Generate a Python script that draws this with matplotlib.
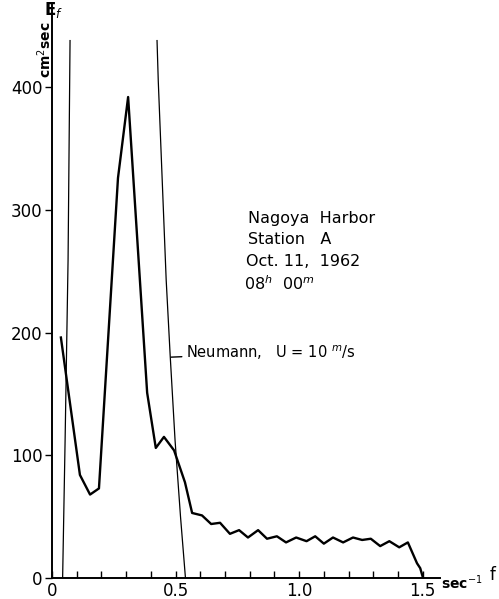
import matplotlib.pyplot as plt
import numpy as np

freq = [0.036, 0.113, 0.154, 0.19, 0.267, 0.308, 0.385, 0.42, 0.453, 0.494,
        0.538, 0.567, 0.607, 0.644, 0.68, 0.72, 0.757, 0.793, 0.834, 0.87,
        0.91, 0.947, 0.988, 1.03, 1.065, 1.10, 1.137, 1.178, 1.218, 1.255,
        1.29, 1.328, 1.365, 1.405, 1.44, 1.477, 1.49, 1.50]
energy = [196, 84, 68, 73, 326, 392, 151, 106, 115, 104,
          78, 53, 51, 44, 45, 36, 39, 33, 39, 32,
          34, 29, 33, 30, 34, 28, 33, 29, 33, 31,
          32, 26, 30, 25, 29, 12, 8, 1]

# Neumann spectrum, U = 10 m/s (both flanks, cut off at the top)
neu_left_f = [0.043, 0.053, 0.065, 0.073]
neu_left_e = [0, 112, 259, 438]
neu_right_f = [0.425, 0.43, 0.462, 0.478, 0.498, 0.52, 0.54]
neu_right_e = [438, 405, 243, 182, 112, 50, 0]

W, H = 499, 599
fig = plt.figure(figsize=(W / 100, H / 100), dpi=100)
plt.rcParams['font.family'] = 'DejaVu Sans'

def fx(px):
    return px / W

def fy(py):
    return 1 - py / H

ax = fig.add_axes([fx(52), fy(578), (440 - 52) / W, (578 - 5) / H])
ax.plot(freq, energy, color='black', lw=1.7)
ax.plot(neu_left_f, neu_left_e, color='black', lw=0.9)
ax.plot(neu_right_f, neu_right_e, color='black', lw=0.9)

ax.set_xlim(0, 1.57)
ax.set_ylim(0, 467)
for s in ['top', 'right']:
    ax.spines[s].set_visible(False)
for s in ['left', 'bottom']:
    ax.spines[s].set_linewidth(1.4)

ax.set_xticks([0, 0.5, 1.0, 1.5])
ax.set_xticklabels(['0', '0.5', '1.0', '1.5'])
ax.set_xticks(np.arange(0.1, 1.5, 0.1), minor=True)
ax.set_yticks([0, 100, 200, 300, 400])
ax.tick_params(axis='x', which='both', direction='in', length=5, width=1,
               labelsize=12, pad=3)
ax.tick_params(axis='y', direction='out', length=5, width=1,
               labelsize=12, pad=2)

# axis titles
fig.text(fx(45), fy(50), 'cm$^2$sec', rotation=90, ha='center', va='center',
         fontsize=10, fontweight='bold')
fig.text(fx(54), fy(10), 'E$_f$', ha='center', va='center', fontsize=12,
         fontweight='bold')
fig.text(fx(462), fy(583), 'sec$^{-1}$', ha='center', va='center', fontsize=10,
         fontweight='bold')
fig.text(fx(493), fy(575), 'f', ha='center', va='center', fontsize=12)

# Neumann annotation
ax.annotate('Neumann,   U = 10 $^{m}$/s', xy=(0.482, 180),
            xytext=(186, H - 353), textcoords='figure pixels',
            fontsize=10.5, va='center', ha='left',
            arrowprops=dict(arrowstyle='-', color='black', lw=1,
                            shrinkA=1, shrinkB=0))

# station block
info = ['Nagoya  Harbor', 'Station   A', 'Oct. 11,  1962', '08$^{h}$  00$^{m}$']
info_y = [218, 240, 262, 284]
info_x = [248, 248, 246, 244]
for t, yy, xx in zip(info, info_y, info_x):
    fig.text(fx(xx), fy(yy), t, ha='left', va='center', fontsize=11.5)

fig.savefig('out.png', dpi=100)
